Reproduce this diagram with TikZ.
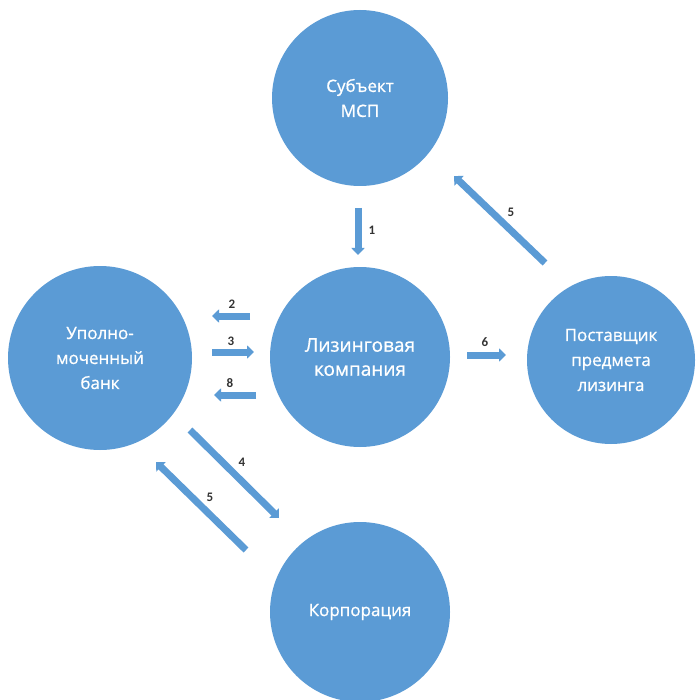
\documentclass[tikz,border=0pt]{standalone}
\usepackage{fontspec}
\setmainfont{Open Sans}
\newfontfamily\partyfont[FakeBold=0.9]{Open Sans}
\newfontfamily\numfont{Carlito}
\usetikzlibrary{arrows.meta}
\definecolor{bubble}{RGB}{91,155,213}
\begin{document}
\begin{tikzpicture}[x=1pt,y=-1pt,
  party/.style={circle, fill=bubble, text=white, inner sep=0pt, align=center,
    font=\partyfont\fontsize{17}{25}\selectfont},
  flow/.style={draw=bubble, line width=7pt, -{Triangle[width=13pt,length=7pt]}},
  num/.style={font=\numfont\bfseries\fontsize{13}{15}\selectfont, text=black!80, inner sep=0pt}]
\useasboundingbox[fill=white] (0,0) rectangle (695,700);

% parties
\node[party, minimum size=176pt] (msp)  at (360,98)  {Субъект\\МСП};
\node[party, minimum size=184pt] (bank) at (100,358) {Уполно-\\моченный\\банк};
\node[party, minimum size=180pt, font=\partyfont\fontsize{19}{24}\selectfont] (lk) at (360,357) {Лизинговая\\компания};
\node[party, minimum size=168pt] (post) at (611,360) {Поставщик\\предмета\\лизинга};
\node[party, minimum size=180pt] (corp) at (360,612) {Корпорация};

% arrow end points
\coordinate (a1s) at (358,208); \coordinate (a1e) at (358,255);
\coordinate (a2s) at (250,316); \coordinate (a2e) at (212,316);
\coordinate (a3s) at (212,352); \coordinate (a3e) at (254,352);
\coordinate (a8s) at (256,395); \coordinate (a8e) at (214,395);
\coordinate (a6s) at (467,355); \coordinate (a6e) at (506,355);
\coordinate (a5us) at (545,263); \coordinate (a5ue) at (454,176);
\coordinate (a4s) at (190,430); \coordinate (a4e) at (279,518);
\coordinate (a5ls) at (246,550); \coordinate (a5le) at (156,462);

\draw[flow] (a1s) -- (a1e);
\draw[flow] (a2s) -- (a2e);
\draw[flow] (a3s) -- (a3e);
\draw[flow] (a8s) -- (a8e);
\draw[flow] (a6s) -- (a6e);
\draw[flow] (a5us) -- (a5ue);
\draw[flow] (a4s) -- (a4e);
\draw[flow] (a5ls) -- (a5le);

% labels
\node[num] (n1) at (372,230) {1};
\node[num] (n2) at (232,304) {2};
\node[num] (n3) at (231,341) {3};
\node[num] (n8) at (230,383) {8};
\node[num] (n6) at (485,342) {6};
\node[num] (n5u) at (511,212) {5};
\node[num] (n4) at (242,462) {4};
\node[num] (n5l) at (210,497) {5};
\end{tikzpicture}
\end{document}
